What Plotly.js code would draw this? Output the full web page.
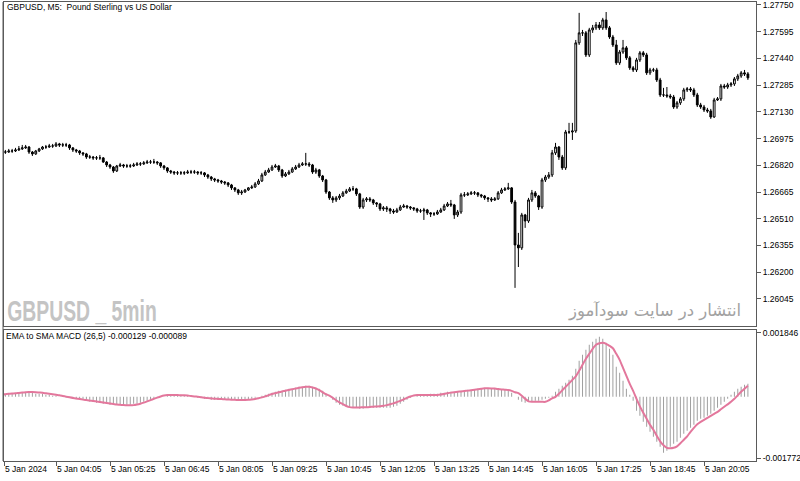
<!DOCTYPE html>
<html><head><meta charset="utf-8">
<script src="https://cdn.plot.ly/plotly-3.0.1.min.js"></script>
<style>html,body{margin:0;padding:0;background:#fff}#chart{width:800px;height:481px}</style>
</head><body><div id="chart"></div>
<script>
// ---- data (GBPUSD M5, 5 Jan 2024) ----
const openPrice = [1.26892,
1.26897,1.26897,1.26903,1.26903,1.26909,1.26915,1.26921,1.26926,1.26897,1.26886,
1.26903,1.26915,1.26926,1.26926,1.26932,1.26932,1.26944,1.26938,1.26938,1.26938,
1.26921,1.26909,1.26903,1.26892,1.26886,1.26868,1.26868,1.26863,1.26863,1.26863,
1.26839,1.26822,1.26810,1.26787,1.26816,1.26822,1.26816,1.26816,1.26816,1.26822,
1.26828,1.26828,1.26834,1.26839,1.26839,1.26839,1.26834,1.26816,1.26805,1.26787,
1.26781,1.26776,1.26776,1.26776,1.26776,1.26781,1.26781,1.26781,1.26776,1.26776,
1.26764,1.26752,1.26741,1.26735,1.26729,1.26723,1.26718,1.26706,1.26689,1.26677,
1.26660,1.26665,1.26677,1.26689,1.26694,1.26712,1.26729,1.26764,1.26781,1.26793,
1.26810,1.26816,1.26793,1.26758,1.26770,1.26781,1.26799,1.26810,1.26822,1.26828,
1.26828,1.26822,1.26781,1.26793,1.26758,1.26735,1.26665,1.26631,1.26619,1.26631,
1.26642,1.26660,1.26671,1.26683,1.26683,1.26654,1.26578,1.26619,1.26625,1.26619,
1.26602,1.26596,1.26567,1.26573,1.26567,1.26555,1.26549,1.26561,1.26578,1.26584,
1.26578,1.26573,1.26567,1.26555,1.26555,1.26561,1.26544,1.26538,1.26538,1.26549,
1.26561,1.26584,1.26596,1.26590,1.26532,1.26549,1.26648,1.26648,1.26654,1.26660,
1.26660,1.26648,1.26642,1.26631,1.26625,1.26619,1.26625,1.26660,1.26677,1.26683,
1.26689,1.26607,1.26358,1.26341,1.26532,1.26497,1.26619,1.26660,1.26642,1.26578,
1.26735,1.26752,1.26764,1.26892,1.26926,1.26868,1.26805,1.27013,1.27013,1.27019,
1.27530,1.27588,1.27588,1.27460,1.27605,1.27617,1.27634,1.27617,1.27663,1.27617,
1.27564,1.27518,1.27414,1.27477,1.27501,1.27443,1.27385,1.27373,1.27431,1.27472,
1.27460,1.27356,1.27373,1.27373,1.27315,1.27228,1.27228,1.27222,1.27216,1.27158,
1.27182,1.27205,1.27257,1.27263,1.27257,1.27228,1.27170,1.27158,1.27141,1.27135,
1.27100,1.27199,1.27205,1.27280,1.27274,1.27286,1.27292,1.27321,1.27338,1.27356,
1.27350];
const highPrice = [
1.26909,1.26909,1.26915,1.26915,1.26921,1.26932,1.26938,1.26938,1.26932,1.26903,
1.26909,1.26921,1.26932,1.26938,1.26944,1.26944,1.26955,1.26950,1.26950,1.26950,
1.26944,1.26926,1.26915,1.26909,1.26897,1.26892,1.26880,1.26874,1.26874,1.26880,
1.26868,1.26845,1.26828,1.26816,1.26822,1.26834,1.26828,1.26828,1.26828,1.26834,
1.26839,1.26839,1.26845,1.26851,1.26851,1.26857,1.26845,1.26839,1.26822,1.26810,
1.26793,1.26787,1.26787,1.26787,1.26787,1.26793,1.26793,1.26793,1.26787,1.26787,
1.26781,1.26770,1.26758,1.26747,1.26741,1.26735,1.26729,1.26723,1.26712,1.26694,
1.26683,1.26677,1.26683,1.26694,1.26706,1.26723,1.26741,1.26776,1.26793,1.26805,
1.26822,1.26828,1.26822,1.26799,1.26781,1.26793,1.26810,1.26822,1.26834,1.26839,
1.26892,1.26839,1.26828,1.26805,1.26799,1.26764,1.26741,1.26671,1.26642,1.26642,
1.26654,1.26671,1.26683,1.26694,1.26700,1.26689,1.26660,1.26631,1.26636,1.26636,
1.26625,1.26607,1.26602,1.26584,1.26584,1.26573,1.26567,1.26573,1.26590,1.26596,
1.26590,1.26584,1.26578,1.26573,1.26567,1.26573,1.26567,1.26549,1.26549,1.26561,
1.26573,1.26596,1.26607,1.26619,1.26596,1.26561,1.26660,1.26665,1.26665,1.26671,
1.26671,1.26665,1.26654,1.26648,1.26636,1.26636,1.26636,1.26671,1.26689,1.26694,
1.26718,1.26694,1.26619,1.26428,1.26544,1.26538,1.26631,1.26677,1.26671,1.26648,
1.26747,1.26764,1.26781,1.26909,1.26950,1.26932,1.26880,1.27025,1.27066,1.27066,
1.27547,1.27704,1.27605,1.27599,1.27617,1.27634,1.27651,1.27651,1.27675,1.27709,
1.27628,1.27576,1.27547,1.27489,1.27547,1.27512,1.27454,1.27396,1.27443,1.27483,
1.27483,1.27472,1.27385,1.27385,1.27385,1.27327,1.27269,1.27274,1.27234,1.27228,
1.27193,1.27216,1.27269,1.27274,1.27274,1.27269,1.27240,1.27182,1.27170,1.27153,
1.27147,1.27211,1.27216,1.27292,1.27292,1.27298,1.27303,1.27332,1.27350,1.27367,
1.27373,1.27361];
const lowPrice = [
1.26886,1.26886,1.26892,1.26892,1.26897,1.26903,1.26909,1.26915,1.26886,1.26874,
1.26880,1.26897,1.26909,1.26915,1.26921,1.26921,1.26926,1.26926,1.26926,1.26926,
1.26909,1.26897,1.26892,1.26880,1.26874,1.26857,1.26857,1.26851,1.26851,1.26851,
1.26834,1.26810,1.26799,1.26776,1.26781,1.26810,1.26805,1.26805,1.26805,1.26810,
1.26816,1.26816,1.26822,1.26828,1.26828,1.26828,1.26822,1.26805,1.26793,1.26776,
1.26770,1.26764,1.26764,1.26764,1.26764,1.26770,1.26770,1.26770,1.26764,1.26764,
1.26752,1.26741,1.26729,1.26723,1.26718,1.26712,1.26706,1.26694,1.26677,1.26665,
1.26648,1.26648,1.26660,1.26671,1.26683,1.26689,1.26706,1.26723,1.26758,1.26776,
1.26787,1.26805,1.26781,1.26747,1.26752,1.26764,1.26776,1.26793,1.26805,1.26816,
1.26816,1.26810,1.26770,1.26770,1.26747,1.26723,1.26654,1.26619,1.26602,1.26607,
1.26619,1.26636,1.26654,1.26665,1.26671,1.26642,1.26567,1.26567,1.26607,1.26607,
1.26590,1.26578,1.26555,1.26555,1.26549,1.26538,1.26538,1.26544,1.26555,1.26573,
1.26567,1.26561,1.26555,1.26544,1.26544,1.26503,1.26532,1.26520,1.26526,1.26532,
1.26544,1.26555,1.26578,1.26578,1.26509,1.26520,1.26538,1.26636,1.26642,1.26648,
1.26648,1.26636,1.26631,1.26619,1.26607,1.26607,1.26613,1.26619,1.26654,1.26671,
1.26677,1.26596,1.26109,1.26230,1.26329,1.26457,1.26486,1.26607,1.26631,1.26561,
1.26567,1.26723,1.26741,1.26752,1.26880,1.26851,1.26793,1.26793,1.27002,1.26967,
1.27008,1.27518,1.27570,1.27448,1.27448,1.27588,1.27605,1.27605,1.27605,1.27605,
1.27553,1.27506,1.27402,1.27402,1.27466,1.27431,1.27373,1.27361,1.27361,1.27419,
1.27448,1.27344,1.27344,1.27361,1.27303,1.27216,1.27216,1.27211,1.27205,1.27147,
1.27147,1.27170,1.27193,1.27245,1.27245,1.27216,1.27158,1.27147,1.27129,1.27124,
1.27089,1.27095,1.27193,1.27193,1.27263,1.27263,1.27274,1.27280,1.27309,1.27327,
1.27338,1.27315];
const closePrice = [
1.26897,1.26897,1.26903,1.26903,1.26909,1.26915,1.26921,1.26926,1.26897,1.26886,
1.26903,1.26915,1.26926,1.26926,1.26932,1.26932,1.26944,1.26938,1.26938,1.26938,
1.26921,1.26909,1.26903,1.26892,1.26886,1.26868,1.26868,1.26863,1.26863,1.26863,
1.26839,1.26822,1.26810,1.26787,1.26816,1.26822,1.26816,1.26816,1.26816,1.26822,
1.26828,1.26828,1.26834,1.26839,1.26839,1.26839,1.26834,1.26816,1.26805,1.26787,
1.26781,1.26776,1.26776,1.26776,1.26776,1.26781,1.26781,1.26781,1.26776,1.26776,
1.26764,1.26752,1.26741,1.26735,1.26729,1.26723,1.26718,1.26706,1.26689,1.26677,
1.26660,1.26665,1.26677,1.26689,1.26694,1.26712,1.26729,1.26764,1.26781,1.26793,
1.26810,1.26816,1.26793,1.26758,1.26770,1.26781,1.26799,1.26810,1.26822,1.26828,
1.26828,1.26822,1.26781,1.26793,1.26758,1.26735,1.26665,1.26631,1.26619,1.26631,
1.26642,1.26660,1.26671,1.26683,1.26683,1.26654,1.26578,1.26619,1.26625,1.26619,
1.26602,1.26596,1.26567,1.26573,1.26567,1.26555,1.26549,1.26561,1.26578,1.26584,
1.26578,1.26573,1.26567,1.26555,1.26555,1.26561,1.26544,1.26538,1.26538,1.26549,
1.26561,1.26584,1.26596,1.26590,1.26532,1.26549,1.26648,1.26648,1.26654,1.26660,
1.26660,1.26648,1.26642,1.26631,1.26625,1.26619,1.26625,1.26660,1.26677,1.26683,
1.26689,1.26607,1.26358,1.26341,1.26532,1.26497,1.26619,1.26660,1.26642,1.26578,
1.26735,1.26752,1.26764,1.26892,1.26926,1.26868,1.26805,1.27013,1.27013,1.27019,
1.27530,1.27588,1.27588,1.27460,1.27605,1.27617,1.27634,1.27617,1.27663,1.27617,
1.27564,1.27518,1.27414,1.27477,1.27501,1.27443,1.27385,1.27373,1.27431,1.27472,
1.27460,1.27356,1.27373,1.27373,1.27315,1.27228,1.27228,1.27222,1.27216,1.27158,
1.27182,1.27205,1.27257,1.27263,1.27257,1.27228,1.27170,1.27158,1.27141,1.27135,
1.27100,1.27199,1.27205,1.27280,1.27274,1.27286,1.27292,1.27321,1.27338,1.27356,
1.27350,1.27327];
// EMA to SMA MACD (26,5): histogram (main) and signal line
const macdMain = [
58e-6,58e-6,87e-6,87e-6,87e-6,116e-6,116e-6,116e-6,116e-6,116e-6,
87e-6,87e-6,87e-6,58e-6,58e-6,29e-6,29e-6,0,0,-29e-6,
-29e-6,-58e-6,-58e-6,-87e-6,-87e-6,-116e-6,-145e-6,-145e-6,-173e-6,-173e-6,
-202e-6,-202e-6,-231e-6,-231e-6,-231e-6,-231e-6,-231e-6,-231e-6,-231e-6,-202e-6,
-202e-6,-173e-6,-145e-6,-116e-6,-87e-6,-58e-6,-29e-6,0,0,29e-6,
29e-6,58e-6,58e-6,58e-6,29e-6,29e-6,0,0,-29e-6,-29e-6,
-58e-6,-58e-6,-87e-6,-87e-6,-87e-6,-87e-6,-87e-6,-87e-6,-87e-6,-87e-6,
-116e-6,-116e-6,-87e-6,-87e-6,-58e-6,-29e-6,0,29e-6,58e-6,87e-6,
116e-6,145e-6,173e-6,173e-6,202e-6,231e-6,231e-6,260e-6,289e-6,289e-6,
318e-6,318e-6,289e-6,260e-6,231e-6,173e-6,87e-6,0,-87e-6,-173e-6,
-231e-6,-260e-6,-289e-6,-318e-6,-318e-6,-318e-6,-347e-6,-347e-6,-318e-6,-318e-6,
-318e-6,-318e-6,-318e-6,-318e-6,-318e-6,-318e-6,-289e-6,-260e-6,-202e-6,-145e-6,
-87e-6,-29e-6,0,29e-6,58e-6,58e-6,58e-6,87e-6,87e-6,87e-6,
116e-6,116e-6,145e-6,145e-6,145e-6,145e-6,173e-6,173e-6,202e-6,202e-6,
202e-6,231e-6,231e-6,231e-6,231e-6,231e-6,231e-6,231e-6,202e-6,202e-6,
173e-6,116e-6,0,-87e-6,-145e-6,-173e-6,-145e-6,-145e-6,-116e-6,-116e-6,
-87e-6,-58e-6,-29e-6,29e-6,145e-6,231e-6,318e-6,405e-6,491e-6,607e-6,
809e-6,1040e-6,1214e-6,1358e-6,1503e-6,1590e-6,1676e-6,1734e-6,1676e-6,1561e-6,
1387e-6,1214e-6,867e-6,694e-6,462e-6,231e-6,58e-6,-116e-6,-405e-6,-549e-6,
-723e-6,-867e-6,-1012e-6,-1156e-6,-1301e-6,-1445e-6,-1618e-6,-1561e-6,-1445e-6,-1358e-6,
-1301e-6,-1185e-6,-1069e-6,-983e-6,-896e-6,-809e-6,-694e-6,-636e-6,-607e-6,-549e-6,
-491e-6,-405e-6,-318e-6,-231e-6,-145e-6,-58e-6,58e-6,145e-6,231e-6,289e-6,
347e-6,376e-6];
const macdSignal = [
64e-6,75e-6,87e-6,95e-6,101e-6,113e-6,124e-6,133e-6,139e-6,139e-6,
133e-6,124e-6,116e-6,101e-6,87e-6,72e-6,58e-6,46e-6,26e-6,6e-6,
-14e-6,-32e-6,-46e-6,-64e-6,-81e-6,-95e-6,-110e-6,-121e-6,-136e-6,-150e-6,
-165e-6,-179e-6,-194e-6,-208e-6,-223e-6,-231e-6,-240e-6,-246e-6,-246e-6,-240e-6,
-223e-6,-199e-6,-168e-6,-133e-6,-95e-6,-58e-6,-23e-6,9e-6,35e-6,49e-6,
52e-6,52e-6,49e-6,46e-6,43e-6,35e-6,23e-6,12e-6,0,-12e-6,
-26e-6,-38e-6,-46e-6,-55e-6,-61e-6,-66e-6,-72e-6,-78e-6,-84e-6,-87e-6,
-90e-6,-92e-6,-92e-6,-87e-6,-75e-6,-61e-6,-43e-6,-17e-6,12e-6,49e-6,
81e-6,107e-6,133e-6,156e-6,176e-6,199e-6,220e-6,240e-6,260e-6,277e-6,
289e-6,289e-6,269e-6,240e-6,191e-6,133e-6,75e-6,35e-6,-29e-6,-98e-6,
-162e-6,-214e-6,-266e-6,-298e-6,-306e-6,-306e-6,-306e-6,-303e-6,-301e-6,-295e-6,
-286e-6,-280e-6,-272e-6,-260e-6,-240e-6,-217e-6,-191e-6,-153e-6,-116e-6,-72e-6,
-29e-6,9e-6,40e-6,52e-6,52e-6,52e-6,52e-6,52e-6,52e-6,52e-6,
64e-6,84e-6,104e-6,121e-6,133e-6,145e-6,156e-6,168e-6,179e-6,191e-6,
205e-6,220e-6,234e-6,246e-6,246e-6,243e-6,237e-6,225e-6,214e-6,205e-6,
197e-6,173e-6,133e-6,104e-6,29e-6,-58e-6,-130e-6,-145e-6,-145e-6,-145e-6,
-145e-6,-145e-6,-101e-6,-43e-6,0,87e-6,188e-6,289e-6,390e-6,491e-6,
592e-6,751e-6,925e-6,1098e-6,1243e-6,1387e-6,1503e-6,1546e-6,1561e-6,1532e-6,
1474e-6,1402e-6,1243e-6,1069e-6,838e-6,607e-6,376e-6,173e-6,-58e-6,-275e-6,
-462e-6,-636e-6,-809e-6,-954e-6,-1127e-6,-1286e-6,-1402e-6,-1474e-6,-1488e-6,-1474e-6,
-1431e-6,-1344e-6,-1243e-6,-1142e-6,-1012e-6,-896e-6,-795e-6,-723e-6,-665e-6,-607e-6,
-549e-6,-491e-6,-434e-6,-361e-6,-289e-6,-217e-6,-145e-6,-58e-6,43e-6,145e-6,
231e-6,318e-6];
const timeTickBars = [0,16,32,48,64,80,96,112,128,144,160,176,192,208];
const timeTickLabels = ['5 Jan 2024','5 Jan 04:05','5 Jan 05:25','5 Jan 06:45','5 Jan 08:05','5 Jan 09:25',
  '5 Jan 10:45','5 Jan 12:05','5 Jan 13:25','5 Jan 14:45','5 Jan 16:05','5 Jan 17:25','5 Jan 18:45','5 Jan 20:05'];
const priceTicks = [1.27750,1.27595,1.27440,1.27285,1.27130,1.26975,1.26820,1.26665,1.26510,1.26355,1.26200,1.26045];
const macdTicks = [0.001846,-0.001772];
const macdTickLabels = ['0.001846','-0.001772'];

// ---- chart ----
const barIdx = closePrice.map((_, i) => i);
const xRange = [0.59, 223.4];
const frame = '#5a5a5a';
const FONT = 'Liberation Sans, Arial, sans-serif';

const traces = [
  {type:'candlestick', x:barIdx, open:openPrice, high:highPrice, low:lowPrice, close:closePrice,
   xaxis:'x', yaxis:'y', whiskerwidth:0, hoverinfo:'skip',
   increasing:{line:{color:'#000', width:1}, fillcolor:'#ffffff'},
   decreasing:{line:{color:'#000', width:1}, fillcolor:'#000000'}},
  {type:'bar', x:barIdx, y:macdMain, xaxis:'x2', yaxis:'y2', width:0.3,
   marker:{color:'#a0a0a0', line:{width:0}}, hoverinfo:'skip'},
  {type:'scatter', mode:'lines', x:barIdx, y:macdSignal, xaxis:'x2', yaxis:'y2',
   line:{color:'#e3779c', width:2, shape:'spline', smoothing:0.6}, hoverinfo:'skip'}
];

const xTickVals = timeTickBars.map(v => Math.max(v, xRange[0]));

const layout = {
  width:800, height:481,
  margin:{l:0, r:0, t:0, b:0, pad:0},
  paper_bgcolor:'#ffffff', plot_bgcolor:'#ffffff',
  showlegend:false, hovermode:false, dragmode:false,
  boxgap:0.25,
  font:{family:FONT, size:8.5, color:'#000'},
  xaxis:{domain:[4/800, 756/800], range:xRange, anchor:'y', showticklabels:false, ticks:'',
    showgrid:false, zeroline:false, showline:true, mirror:true, linecolor:frame, linewidth:1,
    rangeslider:{visible:false}, fixedrange:true},
  yaxis:{domain:[155/481, 479/481], range:[1.25888, 1.27767], anchor:'x', side:'right',
    tickvals:priceTicks, ticktext:priceTicks.map(v => v.toFixed(5)), ticklabeloverflow:'allow',
    ticks:'outside', ticklen:4, tickcolor:frame, tickfont:{family:FONT, size:8.5, color:'#000'},
    showgrid:false, zeroline:false, showline:true, mirror:true, linecolor:frame, linewidth:1, fixedrange:true},
  xaxis2:{domain:[4/800, 756/800], range:xRange, anchor:'y2',
    tickvals:xTickVals, ticktext:timeTickLabels, ticks:'outside', ticklen:4, tickcolor:frame,
    tickangle:0, ticklabelposition:'outside right', ticklabeloverflow:'allow',
    tickfont:{family:FONT, size:8.5, color:'#000'},
    showgrid:false, zeroline:false, showline:true, mirror:true, linecolor:frame, linewidth:1, fixedrange:true},
  yaxis2:{domain:[20/481, 151/481], range:[-0.001855, 0.001931], anchor:'x2', side:'right',
    tickvals:macdTicks, ticktext:macdTickLabels, ticks:'outside', ticklen:4, tickcolor:frame,
    ticklabeloverflow:'allow', tickfont:{family:FONT, size:8.5, color:'#000'},
    showgrid:false, zeroline:false, showline:true, mirror:true, linecolor:frame, linewidth:1, fixedrange:true},
  shapes:[
    {type:'line', xref:'paper', yref:'paper', x0:3/800, x1:3/800, y0:20/481, y1:479/481,
     line:{color:frame, width:1}}
  ],
  annotations:[
    {xref:'paper', yref:'paper', x:5/800, y:1-7/481, xanchor:'left', yanchor:'middle', showarrow:false,
     text:'GBPUSD, M5:\u00a0 Pound Sterling vs US Dollar', font:{family:FONT, size:8.5, color:'#000'}},
    {xref:'paper', yref:'paper', x:4/800, y:1-336/481, xanchor:'left', yanchor:'middle', showarrow:false,
     text:'EMA to SMA MACD (26,5) -0.000129 -0.000089', font:{family:FONT, size:8.5, color:'#000'}},
    {xref:'paper', yref:'paper', x:6/800, y:1-310/481, xanchor:'left', yanchor:'middle', showarrow:false,
     text:'GBPUSD _ 5min', font:{family:'Liberation Sans, Arial, sans-serif', size:30, weight:'bold', color:'#c4c4c4'}},
    {xref:'paper', yref:'paper', x:743/800, y:1-311/481, xanchor:'right', yanchor:'middle', showarrow:false,
     text:'انتشار در سایت سودآموز', font:{family:'DejaVu Sans, Noto Sans, sans-serif', size:16.5, color:'#a2a2a2'}}
  ]
};

Plotly.newPlot('chart', traces, layout, {staticPlot:true, displayModeBar:false}).then(() => {
  // condense the watermark horizontally (narrow bold face as in the reference)
  const ann = document.querySelectorAll('#chart .annotation')[2];
  if (ann) {
    ann.style.transformBox = 'view-box';
    ann.style.transformOrigin = '6px 310px';
    ann.style.transform = 'scaleX(0.645)';
  }
});
</script></body></html>
